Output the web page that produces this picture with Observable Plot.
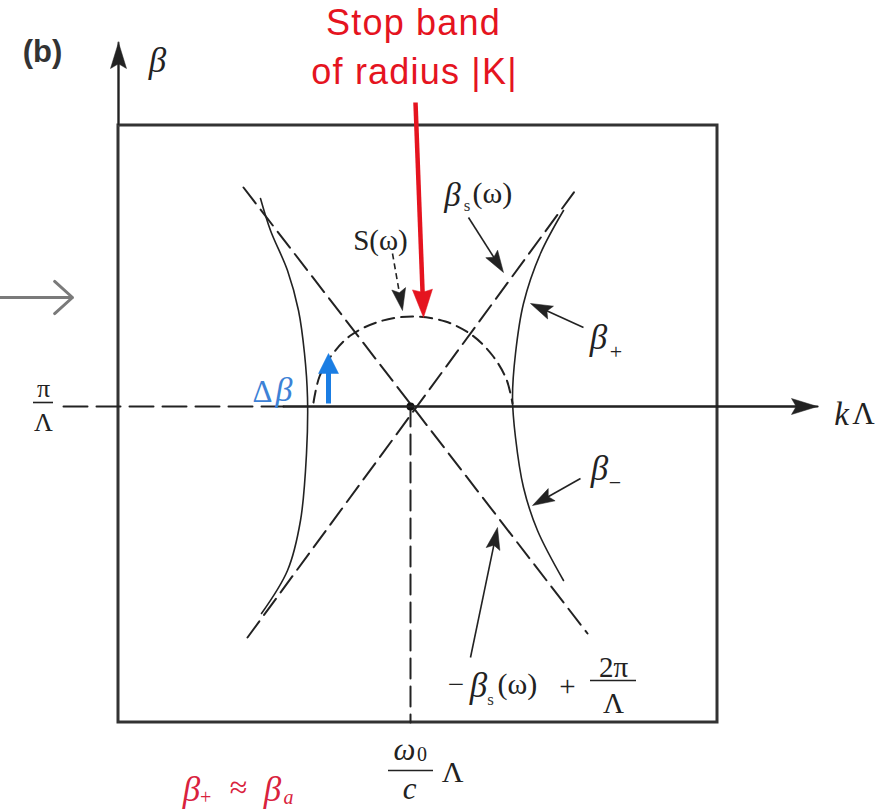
<!DOCTYPE html>
<html><head><meta charset="utf-8">
<script src="https://cdn.jsdelivr.net/npm/d3@7"></script>
<script src="https://cdn.jsdelivr.net/npm/@observablehq/plot@0.6"></script>
<style>body{margin:0;background:#fff} svg{display:block}</style>
</head><body><div id="chart"></div>
<script>
// Data units: x = kΛ measured from ω0Λ/c, y = β measured from π/Λ
const boxX = [-2.92, 3.07];
const boxY = [-3.16, 2.81];
const betaAxisLine = [[-2.92, 2.81], [-2.92, 3.64]];
const kAxisDashed = [[-3.47, 0], [-1.27, 0]];
const kAxisSolid = [[-1.27, 0], [4.07, 0]];
const centerLine = [[0, 0], [0, -3.16]];
const betaS = [[-1.63, -2.31], [1.67, 2.19]];
const minusBetaS = [[-1.67, 2.19], [1.77, -2.27]];
const stopBandArc = [[-0.97, 0.04], [-0.91, 0.30], [-0.79, 0.51], [-0.60, 0.71], [-0.31, 0.85], [0.02, 0.90],
  [0.35, 0.85], [0.62, 0.71], [0.82, 0.51], [0.96, 0.27], [1.02, 0.03]];
const branchLeft = [[-1.50, 2.08], [-1.40, 1.76], [-1.23, 1.36], [-1.12, 0.96], [-1.06, 0.53], [-1.03, 0.09],
  [-1.04, -0.47], [-1.10, -1.14], [-1.23, -1.64], [-1.49, -2.07]];
const branchRight = [[1.53, 1.96], [1.30, 1.53], [1.13, 1.03], [1.05, 0.53], [1.02, 0.09], [1.05, -0.31],
  [1.13, -0.81], [1.27, -1.24], [1.53, -1.74]];
const centerPoint = [[0, 0]];
// arrows: [x1, y1, x2(tip), y2(tip)]
const axisArrows = [[-2.92, 2.81, -2.92, 3.64], [-1.27, 0, 4.07, 0]];
const pointerArrows = [[0.58, 1.89, 0.93, 1.34], [1.73, 0.79, 1.20, 1.03], [1.70, -0.72, 1.22, -0.99], [0.60, -2.51, 0.87, -1.21]];
const sPointer = [[-0.18, 1.53, -0.08, 0.96]];
const stopBandArrow = [[0.05, 3.04, 0.13, 0.89]];
const deltaBetaArrow = [[-0.82, 0.03, -0.82, 0.53]];
const sideArrow = [[-4.10, 1.09, -3.38, 1.09]];
// fraction bars: [x1, x2, y]
const fractionBars = [[-3.77, -3.57, 0.04], [1.80, 2.26, -2.74], [-0.22, 0.23, -3.64]];
// labels: [x, y, text]
const italicBig = [[-2.53, 3.46, "β"], [1.88, 0.69, "β"], [1.89, -0.62, "β"]];
const kLabel = [[4.31, -0.08, "k"]];
const uprightBig = [[4.53, -0.08, "Λ"]];
const subLabels = [[2.055, 0.55, "+"], [2.045, -0.76, "−"]];
const betaSLabel = [[0.42, 2.11, "β"]];
const betaSSub = [[0.565, 2.01, "s"], [0.80, -2.93, "s"]];
const omegaParts = [[0.62, 2.13, "(ω)"], [0.87, -2.78, "(ω)"]];
const sLabel = [[-0.30, 1.66, "S(ω)"]];
const mirrorParts = [[0.455, -2.78, "−"], [1.57, -2.80, "+"], [2.03, -2.61, "2π"], [2.03, -2.97, "Λ"]];
const mirrorBeta = [[0.68, -2.79, "β"]];
const piLambda = [[-3.67, 0.18, "π"], [-3.67, -0.16, "Λ"]];
const omegaTick = [[-0.06, -3.44, "ω"], [-0.01, -3.83, "c"]];
const omegaTickSub = [[0.115, -3.48, "0"]];
const omegaTickLambda = [[0.42, -3.66, "Λ"]];
const redTitle = [[0.03, 3.83, "Stop band"], [0.04, 3.34, "of radius |K|"]];
const panelLabel = [[-3.68, 3.54, "(b)"]];
const deltaLabel = [[-1.48, 0.14, "Δ"]];
const deltaBetaLabel = [[-1.265, 0.16, "β"]];
const approxBig = [[-2.19, -3.83, "β"], [-1.38, -3.83, "β"]];
const approxSign = [[-1.72, -3.81, "≈"]];
const approxSub = [[-2.05, -3.91, "+"], [-1.22, -3.91, "a"]];

const SERIF = "Liberation Serif, Times New Roman, serif";
const SANS = "Liberation Sans, Arial, sans-serif";
const RED = "#e5141f";
const BLUE = "#1a7de3";
const INK = "#222";

const P = d => d[0], Q = d => d[1];
const headSymbol = (len, half, notch) => ({
  draw(ctx) { ctx.moveTo(0, 0); ctx.lineTo(half, len); ctx.lineTo(0, len * notch); ctx.lineTo(-half, len); ctx.closePath(); }
});
function arrows(list, {color, width, len, half, notch = 0.82, dash}) {
  const rows = list.map(([x1, y1, x2, y2]) => {
    const dx = x2 - x1, dy = y2 - y1, L = Math.hypot(dx, dy), back = len * 0.7 / 100;
    return {x1, y1, x2: x2 - dx / L * back, y2: y2 - dy / L * back, tx: x2, ty: y2, a: Math.atan2(dx, dy) * 180 / Math.PI};
  });
  return [
    Plot.link(rows, {x1: "x1", y1: "y1", x2: "x2", y2: "y2", stroke: color, strokeWidth: width, strokeDasharray: dash}),
    Plot.dot(rows, {x: "tx", y: "ty", rotate: "a", r: 1, symbol: headSymbol(len, half, notch), fill: color, stroke: color, strokeWidth: 0.5})
  ];
}
const txt = (data, o) => Plot.text(data, {x: P, y: Q, text: d => d[2], ...o});

const chart = Plot.plot({
  width: 881, height: 809, margin: 0,
  x: {domain: [-4.10, 4.71], axis: null},
  y: {domain: [-4.03, 4.06], axis: null},
  marks: [
    Plot.rect([[boxX, boxY]], {x1: d => d[0][0], x2: d => d[0][1], y1: d => d[1][0], y2: d => d[1][1], fill: "none", stroke: "#333", strokeWidth: 3}),
    Plot.line(betaAxisLine, {x: P, y: Q, stroke: "#555", strokeWidth: 2}),
    Plot.line(kAxisDashed, {x: P, y: Q, stroke: INK, strokeWidth: 2, strokeDasharray: "24,9"}),
    Plot.line(kAxisSolid, {x: P, y: Q, stroke: "#111", strokeWidth: 2.2}),
    Plot.line(centerLine, {x: P, y: Q, stroke: INK, strokeWidth: 2, strokeDasharray: "20,8"}),
    Plot.line(betaS, {x: P, y: Q, stroke: INK, strokeWidth: 2, strokeDasharray: "20,8"}),
    Plot.line(minusBetaS, {x: P, y: Q, stroke: INK, strokeWidth: 2, strokeDasharray: "20,8"}),
    Plot.line(stopBandArc, {x: P, y: Q, curve: "catmull-rom", stroke: INK, strokeWidth: 2, strokeDasharray: "12,7"}),
    Plot.line(branchLeft, {x: P, y: Q, curve: "catmull-rom", stroke: INK, strokeWidth: 1.6}),
    Plot.line(branchRight, {x: P, y: Q, curve: "catmull-rom", stroke: INK, strokeWidth: 1.6}),
    Plot.dot(centerPoint, {x: P, y: Q, r: 4, fill: "#111"}),
    ...arrows(axisArrows, {color: INK, width: 2, len: 26, half: 8}),
    ...arrows(pointerArrows, {color: INK, width: 1.6, len: 22, half: 7}),
    ...arrows(sPointer, {color: INK, width: 1.6, len: 22, half: 7, dash: "6,4"}),
    ...arrows(stopBandArrow, {color: RED, width: 4.5, len: 28, half: 10, notch: 0.9}),
    ...arrows(deltaBetaArrow, {color: BLUE, width: 5, len: 20, half: 10, notch: 1}),
    Plot.arrow(sideArrow, {x1: d => d[0], y1: d => d[1], x2: d => d[2], y2: d => d[3], stroke: "#7a7a7a", strokeWidth: 3, headLength: 18, headAngle: 84}),
    Plot.ruleY(fractionBars, {x1: d => d[0], x2: d => d[1], y: d => d[2], stroke: INK, strokeWidth: 1.6}),
    txt(italicBig, {fontFamily: SERIF, fontStyle: "italic", fontSize: 35, fill: INK}),
    txt(kLabel, {fontFamily: SERIF, fontStyle: "italic", fontSize: 33, fill: INK}),
    txt(uprightBig, {fontFamily: SERIF, fontSize: 31, fill: INK}),
    txt(subLabels, {fontFamily: SERIF, fontSize: 22, fill: INK}),
    txt(betaSLabel, {fontFamily: SERIF, fontStyle: "italic", fontSize: 33, fill: INK}),
    txt(betaSSub, {fontFamily: SERIF, fontSize: 17, fill: "#333"}),
    txt(omegaParts, {fontFamily: SERIF, fontSize: 30, fill: INK, textAnchor: "start"}),
    txt(sLabel, {fontFamily: SERIF, fontSize: 29, fill: INK}),
    txt(mirrorParts, {fontFamily: SERIF, fontSize: 29, fill: INK}),
    txt(mirrorBeta, {fontFamily: SERIF, fontStyle: "italic", fontSize: 35, fill: INK}),
    txt(piLambda, {fontFamily: SERIF, fontSize: 26, fill: INK}),
    txt(omegaTick, {fontFamily: SERIF, fontStyle: "italic", fontSize: 31, fill: INK}),
    txt(omegaTickSub, {fontFamily: SERIF, fontSize: 20, fill: INK}),
    txt(omegaTickLambda, {fontFamily: SERIF, fontSize: 30, fill: INK}),
    txt(redTitle, {fontFamily: SANS, fontSize: 36, fill: RED}),
    txt(panelLabel, {fontFamily: SANS, fontWeight: "bold", fontSize: 31, fill: "#333"}),
    txt(deltaLabel, {fontFamily: SERIF, fontSize: 31, fill: "#3d82d6"}),
    txt(deltaBetaLabel, {fontFamily: SERIF, fontStyle: "italic", fontSize: 34, fill: "#3d82d6"}),
    txt(approxBig, {fontFamily: SERIF, fontStyle: "italic", fontSize: 35, fill: "#d9223d"}),
    txt(approxSign, {fontFamily: SERIF, fontSize: 32, fill: "#d9223d"}),
    txt(approxSub, {fontFamily: SERIF, fontStyle: "italic", fontSize: 20, fill: "#d9223d"})
  ]
});
d3.select(chart).selectAll("text").filter(function() {
  return this.textContent === "Stop band" || this.textContent === "of radius |K|";
}).attr("letter-spacing", "1.2px");
document.getElementById("chart").append(chart);
</script>
</body></html>
